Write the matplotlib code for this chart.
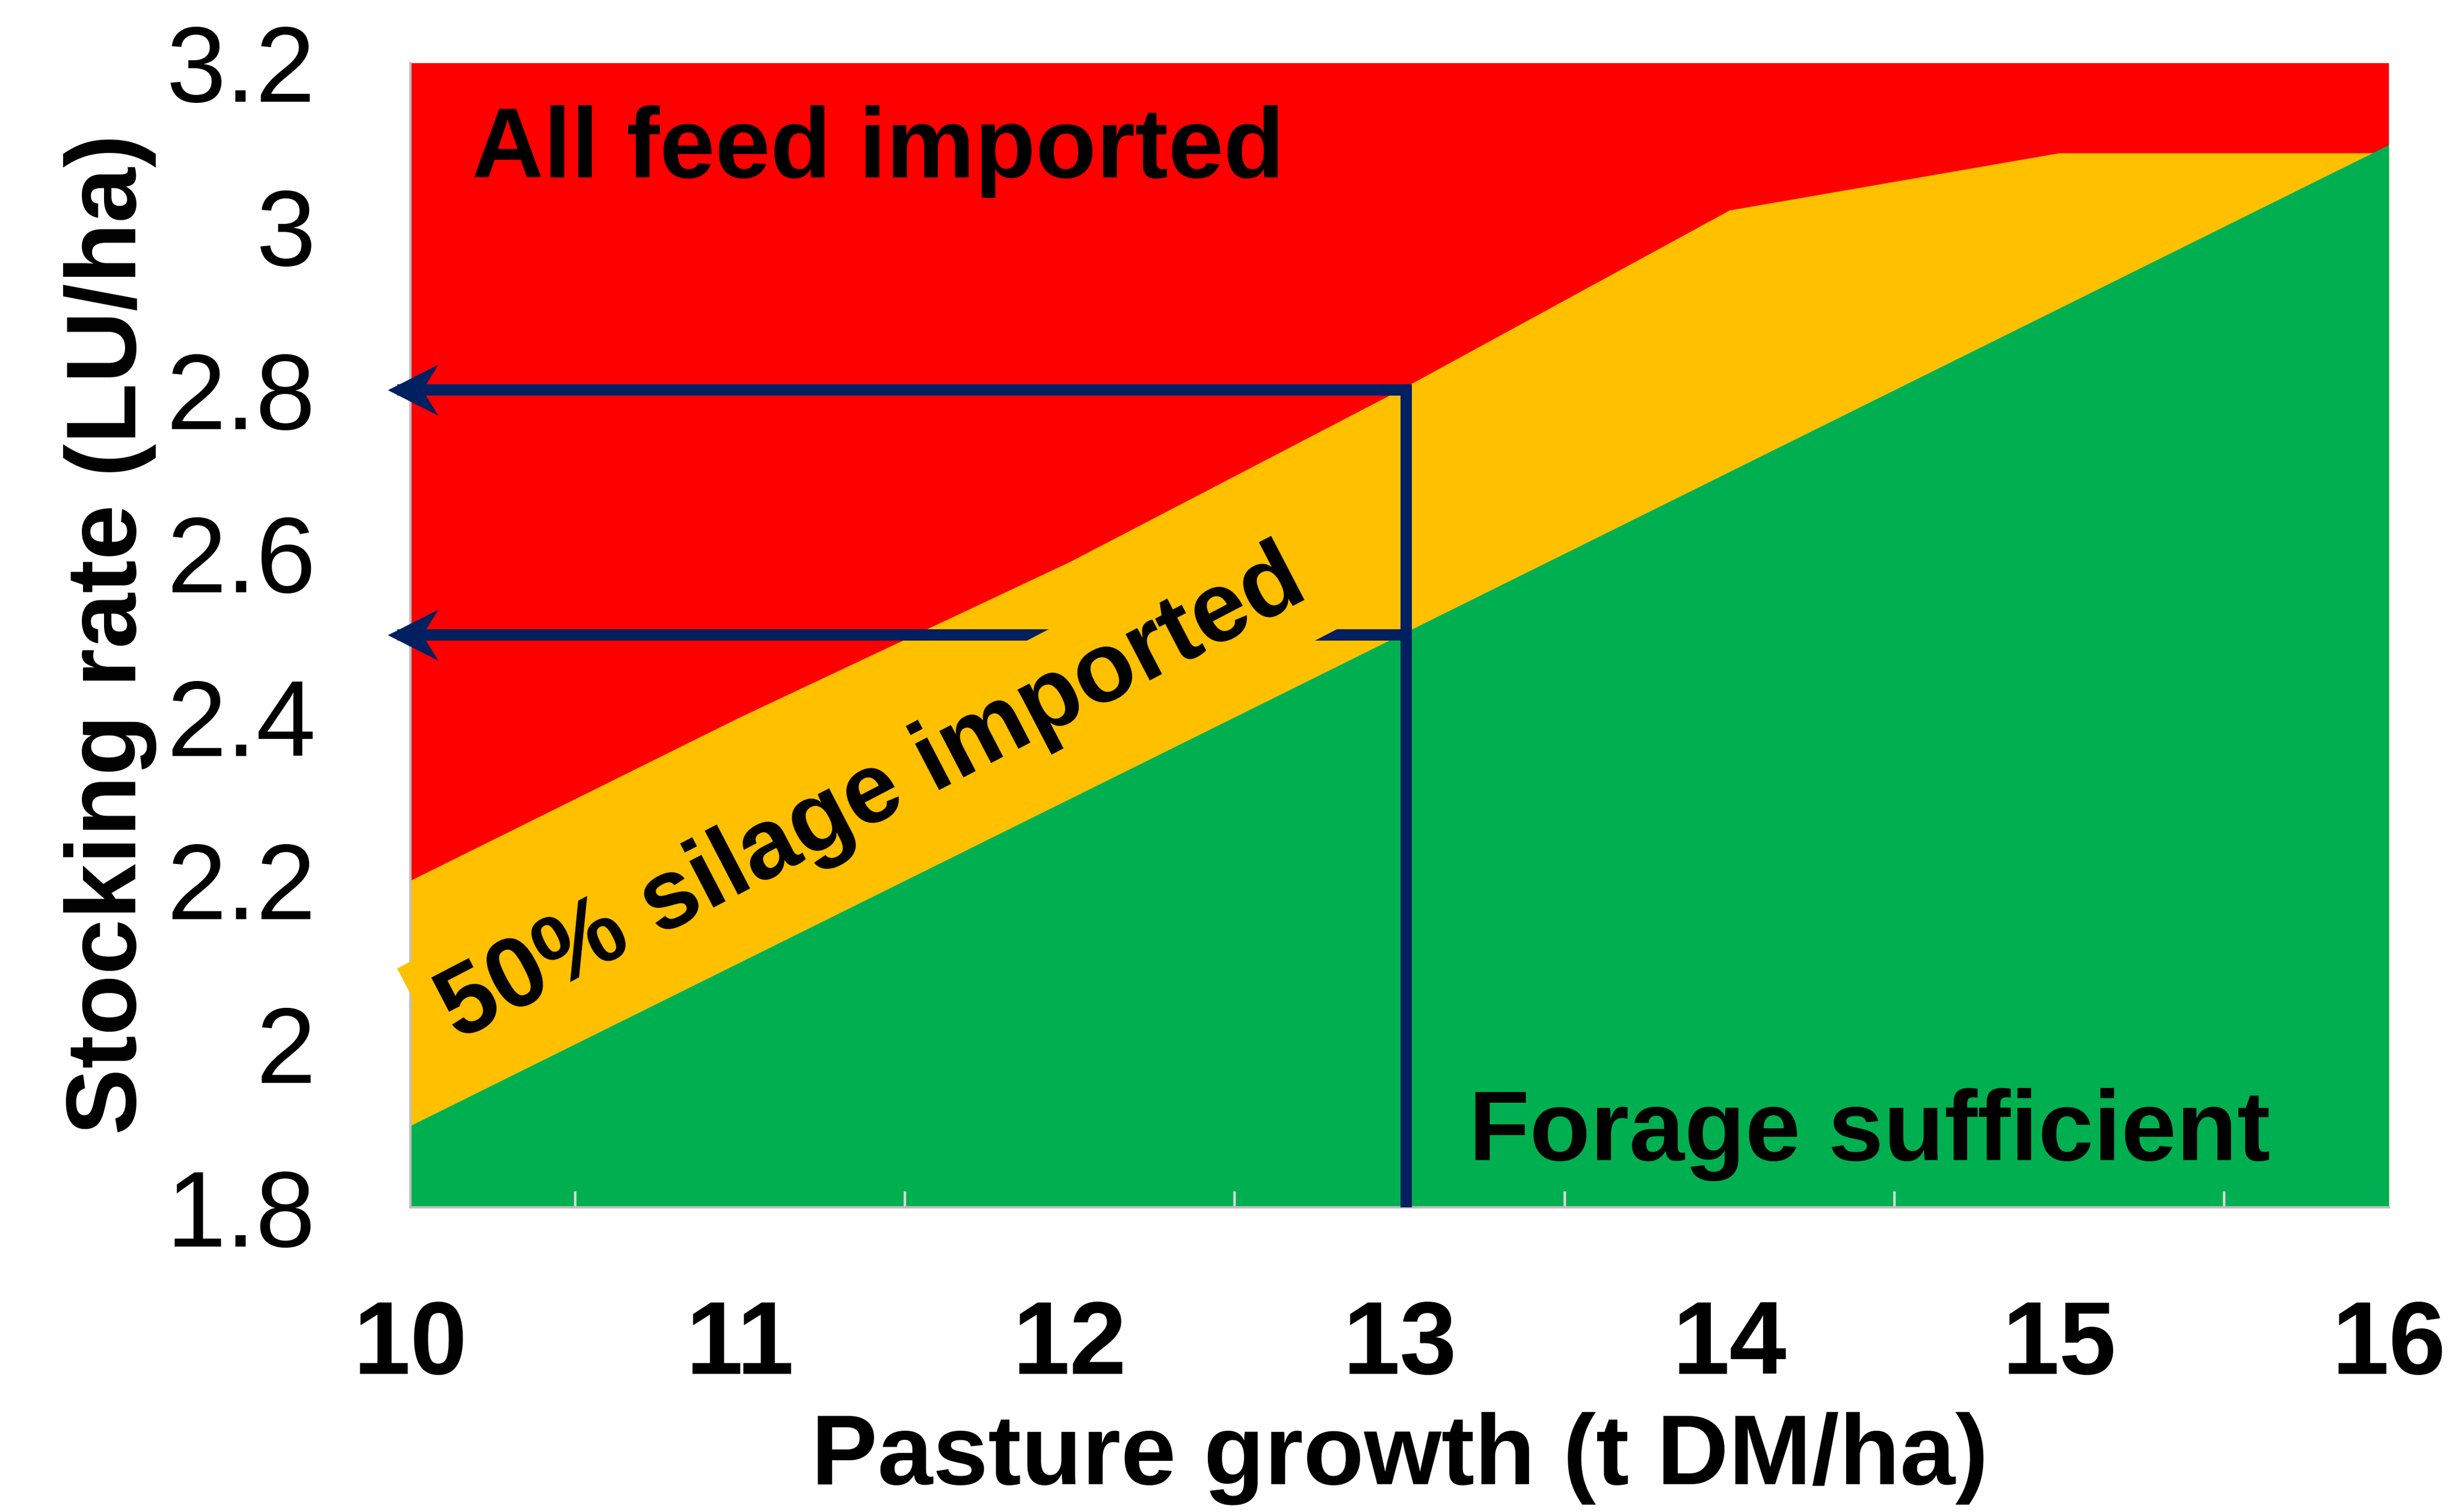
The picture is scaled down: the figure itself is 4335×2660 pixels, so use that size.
import matplotlib
matplotlib.use("Agg")
import matplotlib.pyplot as plt
from matplotlib.path import Path

plt.rcParams['font.family'] = ['Liberation Sans', 'DejaVu Sans']

# ---- data ----
growth = [10, 11, 12, 13, 14, 15, 16]                     # t DM/ha
all_feed_top = [3.2, 3.2, 3.2, 3.2, 3.2, 3.2, 3.2]        # red region top
silage_top = [2.2, 2.4, 2.59, 2.8, 3.02, 3.09, 3.09]      # yellow region top
forage_top = [1.9, 2.1, 2.3, 2.5, 2.7, 2.9, 3.1]          # green region top
y_min = 1.8
yticks = [1.8, 2.0, 2.2, 2.4, 2.6, 2.8, 3.0, 3.2]
ytick_labels = ['1.8', '2', '2.2', '2.4', '2.6', '2.8', '3', '3.2']
xticks = [10, 11, 12, 13, 14, 15, 16]
xtick_labels = ['10', '11', '12', '13', '14', '15', '16']
minor_xticks = [10.5, 11.5, 12.5, 13.5, 14.5, 15.5]

# guide lines
guide_x = 13.02
guide_levels = [2.8, 2.5]
arrow_x = 9.93

RED = '#FF0000'
YELLOW = '#FFC000'
GREEN = '#00B050'
NAVY = '#002060'

fig = plt.figure(figsize=(21.675, 13.3), dpi=200)
ax = fig.add_axes([0.1666, 0.2015, 0.8029, 0.7568])

ax.fill_between(growth, y_min, all_feed_top, color=RED, lw=0, zorder=1.0)
ax.fill_between(growth, y_min, silage_top, color=YELLOW, lw=0, zorder=1.2)
ax.fill_between(growth, y_min, forage_top, color=GREEN, lw=0, zorder=1.4)

ax.set_xlim(10, 16)
ax.set_ylim(1.8, 3.2)

ax.set_xticks(xticks)
ax.set_xticklabels(xtick_labels, fontsize=65, fontweight='bold')
ax.set_xticks(minor_xticks, minor=True)
ax.set_yticks(yticks)
ax.set_yticklabels(ytick_labels, fontsize=68)
ax.tick_params(axis='x', which='major', length=0, pad=58)
ax.tick_params(axis='x', which='minor', direction='in', length=10, width=1.6,
               color='#d9d9d9')
ax.tick_params(axis='y', which='both', length=0, pad=60)

for s in ['top', 'right']:
    ax.spines[s].set_visible(False)
for s in ['left', 'bottom']:
    ax.spines[s].set_color('#bfbfbf')
    ax.spines[s].set_linewidth(1.5)

ax.set_xlabel('Pasture growth (t DM/ha)', fontsize=63, fontweight='bold')
ax.xaxis.set_label_coords(0.5, -0.2196)
ax.xaxis.label.set_va('center')
ax.set_ylabel('Stocking rate (LU/ha)', fontsize=63, fontweight='bold')
ax.yaxis.set_label_coords(-0.1517, 0.501)
ax.yaxis.label.set_va('center')

# region labels
ax.text(10.186, 3.06, 'All feed imported', fontsize=63, fontweight='bold',
        ha='left', va='baseline', zorder=6)
ax.text(13.21, 1.858, 'Forage sufficient', fontsize=63, fontweight='bold',
        ha='left', va='baseline', zorder=6)
ax.text(11.40, 2.303, '50% silage imported', fontsize=63, fontweight='bold',
        ha='center', va='center', rotation=27.5, rotation_mode='anchor',
        bbox=dict(boxstyle='square,pad=0.2', facecolor=YELLOW, edgecolor='none'),
        zorder=6, clip_on=False)

# guide lines with arrows
lw = 7.2
ax.plot([arrow_x + 0.03, guide_x, guide_x], [guide_levels[0], guide_levels[0], y_min],
        color=NAVY, lw=lw, solid_joinstyle='miter', solid_capstyle='butt',
        zorder=5, clip_on=False)
ax.plot([arrow_x + 0.03, guide_x], [guide_levels[1], guide_levels[1]],
        color=NAVY, lw=lw, solid_capstyle='butt', zorder=5, clip_on=False)

head = Path([(0, 0), (89, 45), (61, 0), (89, -45), (0, 0)],
            [Path.MOVETO, Path.LINETO, Path.LINETO, Path.LINETO, Path.CLOSEPOLY])
ax.plot([arrow_x, arrow_x], guide_levels, linestyle='none', marker=head,
        markersize=64, markerfacecolor=NAVY, markeredgecolor=NAVY,
        markeredgewidth=0, zorder=7, clip_on=False)

fig.savefig('out.png', dpi=200)
